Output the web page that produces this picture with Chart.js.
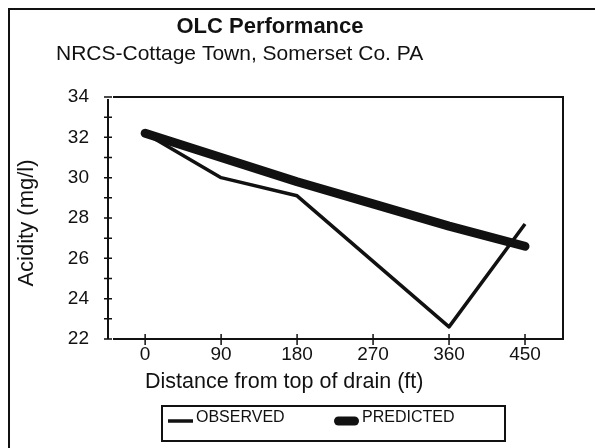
<!DOCTYPE html>
<html>
<head>
<meta charset="utf-8">
<script src="https://cdn.jsdelivr.net/npm/chart.js@4.4.1/dist/chart.umd.min.js"></script>
<style>
  html, body { margin: 0; padding: 0; background: #fff; }
  canvas { display: block; }
</style>
</head>
<body>
<canvas id="myChart" width="595" height="448"></canvas>
<script>
const chartTitle = 'OLC Performance';
const chartSubtitle = 'NRCS-Cottage Town, Somerset Co. PA';
const xAxisTitle = 'Distance from top of drain (ft)';
const yAxisTitle = 'Acidity (mg/l)';

const observedDistance = [0, 90, 180, 360, 450];
const observedAcidity = [32.2, 30.0, 29.1, 22.6, 27.7];

const predictedDistance = [0, 90, 180, 270, 360, 450];
const predictedAcidity = [32.2, 31.0, 29.8, 28.7, 27.6, 26.6];

const xTicks = [0, 90, 180, 270, 360, 450];
const yTicks = [22, 24, 26, 28, 30, 32, 34];

const FONT = 'Arial, "Liberation Sans", Helvetica, sans-serif';
const INK = '#111';

const toPoints = (xs, ys) => xs.map((x, i) => ({ x: x, y: ys[i] }));

// frame, crossing ticks, titles and the boxed legend
const decor = {
    id: 'decor',
    beforeDraw(chart) {
        const ctx = chart.ctx;
        ctx.save();
        ctx.fillStyle = '#fff';
        ctx.fillRect(0, 0, chart.width, chart.height);
        ctx.restore();
    },
    afterDraw(chart) {
        const ctx = chart.ctx;
        const area = chart.chartArea;
        const xs = chart.scales.x;
        const ys = chart.scales.y;
        ctx.save();
        ctx.strokeStyle = INK;
        ctx.fillStyle = INK;
        ctx.lineWidth = 2;

        // outer page frame (runs off the right and bottom)
        ctx.beginPath();
        ctx.moveTo(chart.width, 9);
        ctx.lineTo(9, 9);
        ctx.lineTo(9, chart.height);
        ctx.stroke();

        // plot frame
        ctx.beginPath();
        ctx.moveTo(area.left, area.top + 2);
        ctx.lineTo(area.left, area.bottom);
        ctx.moveTo(area.left + 5, area.top);
        ctx.lineTo(area.right, area.top);
        ctx.lineTo(area.right, area.bottom);
        ctx.lineTo(area.left + 5, area.bottom);
        ctx.stroke();

        // ticks
        ctx.lineWidth = 1.5;
        ctx.beginPath();
        xTicks.forEach(v => {
            const px = xs.getPixelForValue(v);
            ctx.moveTo(px, area.bottom - 5);
            ctx.lineTo(px, area.bottom + 6);
        });
        for (let v = ys.min; v <= ys.max; v++) {
            const py = ys.getPixelForValue(v);
            ctx.moveTo(area.left - 4, py);
            ctx.lineTo(area.left + 4, py);
        }
        ctx.stroke();

        // titles
        ctx.textBaseline = 'alphabetic';
        ctx.textAlign = 'center';
        ctx.font = 'bold 22px ' + FONT;
        ctx.fillText(chartTitle, 270, 33);
        ctx.textAlign = 'left';
        ctx.font = '21px ' + FONT;
        ctx.fillText(chartSubtitle, 56, 60);
        ctx.font = '21.5px ' + FONT;
        ctx.fillText(xAxisTitle, 145, 388);

        ctx.save();
        ctx.translate(27, 223);
        ctx.rotate(-Math.PI / 2);
        ctx.textAlign = 'center';
        ctx.textBaseline = 'middle';
        ctx.font = '22px ' + FONT;
        ctx.fillText(yAxisTitle, 0, 0);
        ctx.restore();

        // legend
        ctx.lineWidth = 2;
        ctx.strokeRect(162, 406, 343, 35);
        const sampleX = [168, 334];
        const textX = [196, 362];
        ctx.font = '16px ' + FONT;
        ctx.textBaseline = 'middle';
        chart.data.datasets.forEach((ds, i) => {
            ctx.lineWidth = ds.borderWidth;
            ctx.lineCap = ds.borderCapStyle;
            const pad = ds.borderCapStyle === 'round' ? ds.borderWidth / 2 : 0;
            ctx.beginPath();
            ctx.moveTo(sampleX[i] + pad, 421);
            ctx.lineTo(sampleX[i] + 25 - pad, 421);
            ctx.stroke();
            ctx.fillText(ds.label, textX[i], 418);
        });
        ctx.restore();
    }
};

const chart = new Chart(document.getElementById('myChart'), {
    type: 'line',
    data: {
        datasets: [{
            label: 'OBSERVED',
            data: toPoints(observedDistance, observedAcidity),
            borderColor: INK,
            borderWidth: 3.5,
            borderCapStyle: 'butt',
            borderJoinStyle: 'round',
            pointRadius: 0,
            tension: 0
        }, {
            label: 'PREDICTED',
            data: toPoints(predictedDistance, predictedAcidity),
            borderColor: INK,
            borderWidth: 9,
            borderCapStyle: 'round',
            borderJoinStyle: 'round',
            pointRadius: 0,
            tension: 0
        }]
    },
    options: {
        responsive: false,
        animation: false,
        devicePixelRatio: 1,
        layout: { padding: { top: 97, right: 32, left: 0, bottom: 0 } },
        plugins: {
            legend: { display: false },
            title: { display: false },
            tooltip: { enabled: false }
        },
        scales: {
            x: {
                type: 'linear',
                min: -44,
                max: 495,
                afterFit: scale => { scale.height = 109; },
                afterBuildTicks: scale => { scale.ticks = xTicks.map(v => ({ value: v })); },
                grid: { display: false, drawTicks: false },
                border: { display: false },
                ticks: {
                    color: INK,
                    padding: 4,
                    maxRotation: 0,
                    font: { family: FONT, size: 19 }
                }
            },
            y: {
                min: 22,
                max: 34,
                afterFit: scale => { scale.width = 108; },
                afterBuildTicks: scale => { scale.ticks = yTicks.map(v => ({ value: v })); },
                grid: { display: false, drawTicks: false },
                border: { display: false },
                ticks: {
                    color: INK,
                    padding: 19,
                    font: { family: FONT, size: 19 }
                }
            }
        }
    },
    plugins: [decor]
});
</script>
</body>
</html>
